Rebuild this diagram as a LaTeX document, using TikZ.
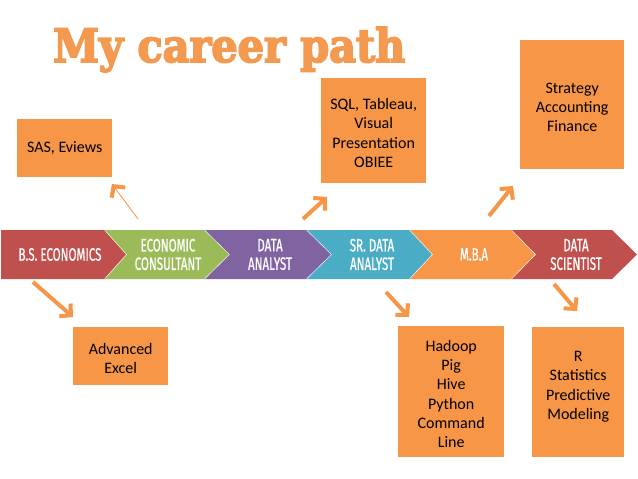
\documentclass[tikz,border=0pt]{standalone}
\usepackage{fontspec}
\setmainfont{Carlito}
\newfontfamily\chevfont[FakeStretch=0.64,FakeBold=0.6]{Fira Sans}
\newfontfamily\titlefont[BoldFeatures={FakeBold=3.6,FakeStretch=0.9}]{DejaVu Serif}
\usetikzlibrary{arrows.meta}
\definecolor{orangeA}{HTML}{F79646}
\definecolor{titleC}{HTML}{F39A50}
\definecolor{redA}{HTML}{C0504D}
\definecolor{greenA}{HTML}{9BBB59}
\definecolor{purpleA}{HTML}{8064A2}
\definecolor{blueA}{HTML}{4BACC6}
\newcommand{\topfix}{\rule{0pt}{16pt}}
\tikzset{
 infobox/.style={fill=orangeA,draw=none,anchor=north west,inner sep=0pt,align=center,text=black,font=\fontsize{16}{19.3}\selectfont},
 chevlabel/.style={text=white,align=center,inner sep=0pt,font=\chevfont\fontsize{18}{18.5}\selectfont},
 careerarrow/.style={draw=orangeA,line width=4pt,-{Straight Barb[length=8pt,width=17pt,line width=4pt]}},
 thinarrow/.style={draw=orangeA,line width=0.8pt,-{Straight Barb[length=8pt,width=17pt,line width=4pt]}}
}
\newcommand{\chev}[5]{\fill[#1] (#2,230) -- (#3,230) -- (#4,254.5) -- (#3,279) -- (#2,279) -- (#5,254.5) -- cycle;\draw[white,line width=1.2pt] (#3,230) -- (#4,254.5) -- (#3,279);}
\begin{document}
\begin{tikzpicture}[x=1pt,y=-1pt]
\useasboundingbox (0,0) rectangle (638,479);
\fill[white] (0,0) rectangle (638,479);
\chev{redA}{1}{105}{127}{1}
\chev{greenA}{105}{205}{230}{127}
\chev{purpleA}{205}{307}{332}{230}
\chev{blueA}{307}{410}{433}{332}
\chev{orangeA}{410}{512}{536}{433}
\fill[redA] (512,230) -- (612,230) -- (637,254.5) -- (612,279) -- (512,279) -- (536,254.5) -- cycle;
\node[chevlabel] (bs) at (60,254.5) {B.S. ECONOMICS};
\node[chevlabel] (ec) at (168,254.5) {ECONOMIC\\CONSULTANT};
\node[chevlabel] (da) at (270,254.5) {DATA\\ANALYST};
\node[chevlabel] (sr) at (372,254.5) {SR. DATA\\ANALYST};
\node[chevlabel] (mba) at (474,254.5) {M.B.A};
\node[chevlabel] (ds) at (576,254.5) {DATA\\SCIENTIST};
\node[anchor=base west,inner sep=0pt,text=titleC,font=\titlefont\bfseries\fontsize{46}{46}\selectfont] (title) at (53,62) {My career path};
\node[infobox,minimum width=95pt,minimum height=58pt] (sas) at (17,119) {SAS, Eviews};
\node[infobox,minimum width=105pt,minimum height=105pt] (sql) at (321,78) {\topfix SQL, Tableau,\\Visual\\Presentation\\OBIEE};
\node[infobox,minimum width=104pt,minimum height=129pt] (st) at (520,40) {\topfix Strategy\\Accounting\\Finance};
\node[infobox,minimum width=95pt,minimum height=58pt] (adv) at (73,327) {\topfix Advanced\\Excel};
\node[infobox,minimum width=106pt,minimum height=131pt] (had) at (398,326) {\topfix Hadoop\\Pig\\Hive\\Python\\Command\\Line};
\node[infobox,minimum width=92pt,minimum height=130pt] (r) at (532,327) {\topfix R\\Statistics\\Predictive\\Modeling\\\mbox{}};
\coordinate (a1s) at (138,219); \coordinate (a1e) at (112,184);
\coordinate (a2s) at (303,219); \coordinate (a2e) at (327,197);
\coordinate (a3s) at (489,216); \coordinate (a3e) at (513,186);
\coordinate (a4s) at (386,292); \coordinate (a4e) at (409,317);
\coordinate (a5s) at (554,284); \coordinate (a5e) at (577,311);
\coordinate (a6s) at (33,282); \coordinate (a6e) at (73,317);
\draw[thinarrow] (a1s) -- (a1e);
\draw[careerarrow] (a2s) -- (a2e);
\draw[careerarrow] (a3s) -- (a3e);
\draw[careerarrow] (a4s) -- (a4e);
\draw[careerarrow] (a5s) -- (a5e);
\draw[careerarrow] (a6s) -- (a6e);
\end{tikzpicture}
\end{document}
